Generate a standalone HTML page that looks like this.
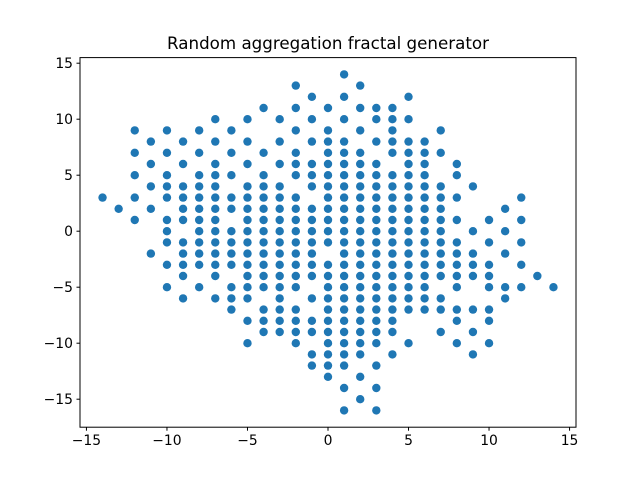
<!DOCTYPE html>
<html><head><meta charset="utf-8"><style>
html,body{margin:0;padding:0;background:#fff;}
svg{display:block;font-family:"DejaVu Sans","Liberation Sans",sans-serif;}
</style></head><body>
<svg id="chart" width="640" height="480" viewBox="0 0 640 480" xmlns="http://www.w3.org/2000/svg">
<rect x="0" y="0" width="640" height="480" fill="#fff"/>
<text x="328" y="49" font-size="16.7" text-anchor="middle" fill="#000">Random aggregation fractal generator</text>
<g id="points"></g>
<rect x="80" y="57.6" width="496" height="369.6" fill="none" stroke="#000" stroke-width="1"/>
<g id="xticks"></g>
<g id="yticks"></g>
</svg>
<script>
const colX = [-14,-13,-12,-11,-10,-9,-8,-7,-6,-5,-4,-3,-2,-1,0,1,2,3,4,5,6,7,8,9,10,11,12,13,14];
const colYs = [
[3],
[2],
[9,7,5,3,1],
[8,6,4,2,-2],
[9,7,5,4,3,1,0,-1,-3,-5],
[8,6,4,3,2,1,-1,-2,-3,-4,-6],
[9,7,5,4,3,2,1,0,-1,-2,-3,-5],
[10,8,6,5,4,3,2,1,0,-1,-2,-3,-4,-6],
[9,7,5,3,2,0,-1,-2,-3,-5,-6,-7],
[10,8,6,4,3,2,1,0,-1,-2,-3,-4,-5,-6,-8,-10],
[11,7,5,4,3,2,1,0,-1,-2,-3,-4,-5,-7,-8,-9],
[10,8,6,4,3,2,1,0,-1,-2,-3,-4,-5,-6,-7,-8,-9],
[13,11,9,7,6,5,3,2,1,0,-1,-2,-3,-4,-5,-7,-8,-9,-10],
[12,10,8,6,5,4,2,1,0,-1,-2,-3,-4,-6,-8,-9,-11,-12],
[11,9,8,7,6,5,4,3,2,1,0,-1,-3,-4,-5,-6,-7,-8,-9,-10,-11,-12,-13],
[14,12,10,8,7,6,5,4,3,2,1,0,-1,-2,-3,-4,-5,-6,-7,-8,-9,-10,-11,-12,-14,-16],
[13,11,9,7,6,5,4,3,2,1,0,-1,-2,-3,-4,-5,-6,-7,-8,-9,-10,-11,-13,-15],
[11,10,8,6,5,4,3,2,1,0,-1,-2,-3,-4,-5,-6,-7,-8,-9,-10,-12,-14,-16],
[11,10,9,8,7,5,4,3,2,1,0,-1,-2,-3,-4,-5,-6,-7,-8,-9,-11],
[12,10,8,7,6,5,4,3,2,1,0,-1,-2,-3,-4,-5,-6,-7,-10],
[8,7,6,5,4,3,2,1,0,-1,-2,-3,-4,-5,-6,-7],
[9,7,4,3,2,1,0,-1,-2,-3,-4,-6,-7,-9],
[6,5,3,1,-1,-2,-3,-4,-5,-7,-8,-10],
[4,0,-2,-3,-4,-7,-9,-11],
[1,-1,-3,-4,-5,-7,-8,-10],
[2,0,-2,-5,-6],
[3,1,-1,-3,-5],
[-4],
[-5]
];
const xTickVals = [-15,-10,-5,0,5,10,15];
const yTickVals = [-15,-10,-5,0,5,10,15];
const xMin=-15.4, xMax=15.4, yMin=-17.5, yMax=15.5;
const L=80, R=576, T=57.6, B=427.2;
function sx(v){return L+(v-xMin)/(xMax-xMin)*(R-L);}
function sy(v){return B-(v-yMin)/(yMax-yMin)*(B-T);}
const NS="http://www.w3.org/2000/svg";
const pg=document.getElementById('points');
colX.forEach((x,i)=>{
  colYs[i].forEach(y=>{
    const c=document.createElementNS(NS,'circle');
    c.setAttribute('cx',sx(x));c.setAttribute('cy',sy(y));c.setAttribute('r',4.2);
    c.setAttribute('fill','#1f77b4');
    
    
    pg.appendChild(c);
  });
});
const xg=document.getElementById('xticks');
xTickVals.forEach(v=>{
  const px=sx(v);
  const l=document.createElementNS(NS,'line');
  l.setAttribute('x1',px);l.setAttribute('x2',px);l.setAttribute('y1',B);l.setAttribute('y2',B+3.5);
  l.setAttribute('stroke','#000');
  
  
  xg.appendChild(l);
  const t=document.createElementNS(NS,'text');
  t.setAttribute('x',px);t.setAttribute('y',B+18);t.setAttribute('font-size','13.9');t.setAttribute('text-anchor','middle');
  t.textContent=v<0?'\u2212'+(-v):String(v);
  
  
  xg.appendChild(t);
});
const yg=document.getElementById('yticks');
yTickVals.forEach(v=>{
  const py=sy(v);
  const l=document.createElementNS(NS,'line');
  l.setAttribute('x1',L-3.5);l.setAttribute('x2',L);l.setAttribute('y1',py);l.setAttribute('y2',py);
  l.setAttribute('stroke','#000');
  
  
  yg.appendChild(l);
  const t=document.createElementNS(NS,'text');
  t.setAttribute('x',L-7);t.setAttribute('y',py+5);t.setAttribute('font-size','13.9');t.setAttribute('text-anchor','end');
  t.textContent=v<0?'\u2212'+(-v):String(v);
  
  
  yg.appendChild(t);
});
</script>
</body></html>
